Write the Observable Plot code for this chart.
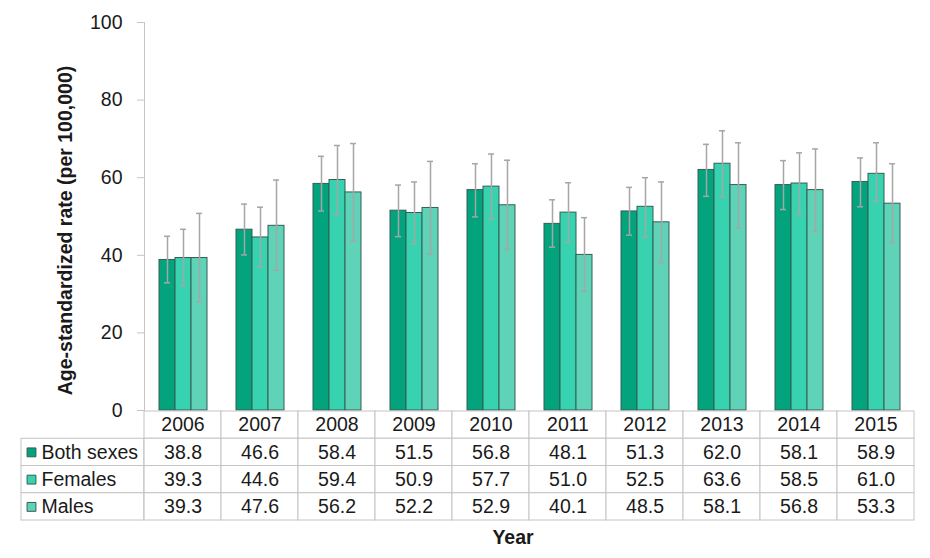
<!DOCTYPE html>
<html>
<head>
<meta charset="utf-8">
<script src="https://cdn.jsdelivr.net/npm/d3@7"></script>
<script src="https://cdn.jsdelivr.net/npm/@observablehq/plot@0.6"></script>
<style>
  html, body { margin: 0; padding: 0; background: #fff; }
  #chart { width: 930px; height: 558px; overflow: hidden; background: #fff; }
  #chart svg { display: block; }
</style>
</head>
<body>
<div id="chart"></div>
<script>
// Age-standardized rates by year and sex, with 95% confidence limits
const years = ["2006", "2007", "2008", "2009", "2010", "2011", "2012", "2013", "2014", "2015"];
const series = ["Both sexes", "Females", "Males"];

const bothSexes = [38.8, 46.6, 58.4, 51.5, 56.8, 48.1, 51.3, 62.0, 58.1, 58.9];
const females   = [39.3, 44.6, 59.4, 50.9, 57.7, 51.0, 52.5, 63.6, 58.5, 61.0];
const males     = [39.3, 47.6, 56.2, 52.2, 52.9, 40.1, 48.5, 58.1, 56.8, 53.3];

const bothLow     = [32.9, 40.1, 51.4, 44.8, 49.9, 42.1, 45.2, 55.2, 51.8, 52.5];
const bothHigh    = [44.9, 53.2, 65.5, 58.1, 63.6, 54.3, 57.5, 68.6, 64.4, 65.1];
const femalesLow  = [32.2, 37.0, 50.5, 43.0, 49.3, 43.4, 44.8, 55.1, 50.5, 53.9];
const femalesHigh = [46.7, 52.4, 68.3, 58.9, 66.1, 58.7, 60.0, 72.1, 66.4, 69.0];
const malesLow    = [28.0, 36.1, 43.6, 40.3, 41.5, 30.7, 38.1, 47.1, 46.1, 43.3];
const malesHigh   = [50.8, 59.4, 68.8, 64.2, 64.5, 49.7, 58.9, 69.0, 67.4, 63.6];

const yTicks = [0, 20, 40, 60, 80, 100];
const yTitle = "Age-standardized rate (per 100,000)";
const xTitle = "Year";
const colors = ["#03a37e", "#37d3b0", "#5fd3b8"];

const values = [bothSexes, females, males];
const lows = [bothLow, femalesLow, malesLow];
const highs = [bothHigh, femalesHigh, malesHigh];

const rows = series.flatMap((s, j) => years.map((year, i) => ({
  year, series: s, value: values[j][i], low: lows[j][i], high: highs[j][i]
})));

const W = 930, left = 142, right = 15;
const font = "'Liberation Sans', Arial, Helvetica, sans-serif";
const fontSize = "19.5px";
const grid = "#c4c4c4";
const errColor = "#a6a6a6";
const barStroke = "#375d53";

// Grouped bars, one facet per year
const chart = Plot.plot({
  width: W,
  height: 410,
  marginTop: 22,
  marginBottom: 0,
  marginLeft: left,
  marginRight: right,
  style: { fontFamily: font, fontSize, color: "#1a1a1a", background: "#fff", overflow: "visible" },
  fx: { domain: years, padding: 0, axis: null },
  x: { domain: series, paddingInner: 0, paddingOuter: 0.77, axis: null },
  y: { domain: [0, 100] },
  color: { domain: series, range: colors },
  marks: [
    Plot.axisY({ ticks: yTicks, tickSize: 7, tickPadding: 15, stroke: grid, label: null }),
    Plot.frame({ anchor: "left", stroke: grid, facetAnchor: "left" }),
    Plot.text([yTitle], {
      facetAnchor: "left", frameAnchor: "left", textAnchor: "middle", rotate: -90, dx: -79, dy: 14,
      fontWeight: "bold", text: d => d
    }),
    Plot.barY(rows, { fx: "year", x: "series", y: "value", fill: "series", stroke: barStroke, strokeWidth: 1 }),
    Plot.ruleX(rows, { fx: "year", x: "series", y1: "low", y2: "high", stroke: errColor, strokeWidth: 1.5 }),
    Plot.tickY(rows, { fx: "year", x: "series", y: "low", stroke: errColor, strokeWidth: 1.5, insetLeft: 5, insetRight: 5 }),
    Plot.tickY(rows, { fx: "year", x: "series", y: "high", stroke: errColor, strokeWidth: 1.5, insetLeft: 5, insetRight: 5 })
  ]
});

// Data table under the bars, with the legend in its first column
const tableRows = ["year", ...series];
const cells = tableRows.flatMap((r, k) => years.map((year, i) => ({
  year, k, text: k === 0 ? year : values[k - 1][i].toFixed(1)
})));
const band = (W - left - right) / years.length;
const legendWidth = 123;

const table = Plot.plot({
  width: W,
  height: 148,
  marginTop: 1,
  marginBottom: 38,
  marginLeft: left,
  marginRight: right,
  style: { fontFamily: font, fontSize, color: "#1a1a1a", background: "#fff", overflow: "visible" },
  x: { domain: years, padding: 0, axis: null },
  y: { domain: [0, tableRows.length], range: [1, 110], axis: null },
  color: { domain: series, range: colors },
  marks: [
    Plot.barY(cells, { x: "year", y1: "k", y2: d => d.k + 1, fill: "#fff", stroke: grid }),
    Plot.barY(series, {
      x: () => years[0], y1: (d, i) => i + 1, y2: (d, i) => i + 2,
      insetLeft: -legendWidth, insetRight: band, fill: "#fff", stroke: grid
    }),
    Plot.text(cells, { x: "year", y: d => d.k + 0.5, text: "text" }),
    Plot.dot(series, {
      frameAnchor: "left", y: (d, i) => i + 1.5, dx: -111, symbol: "square", r: 5,
      fill: d => d, stroke: barStroke, strokeWidth: 1
    }),
    Plot.text(series, { frameAnchor: "left", y: (d, i) => i + 1.5, dx: -101, textAnchor: "start", text: d => d }),
    Plot.text([xTitle], { frameAnchor: "bottom", dy: 23, dx: -16, fontWeight: "bold", text: d => d })
  ]
});

document.getElementById("chart").append(chart, table);
</script>
</body>
</html>
